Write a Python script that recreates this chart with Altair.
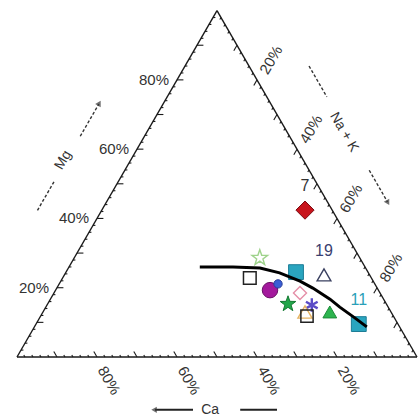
import numpy as np
import pandas as pd
import altair as alt

H = np.sqrt(3) / 2  # height of the unit triangle

# ---- sample cation compositions (% of meq) ----
sample_ids = ["7", "19", "11", "4", "5", "6", "8", "9", "10", "12", "13", "14", "15", "16"]
ca_pct = [6.8, 11.4, 9.8, 18.0, 27.1, 24.2, 24.6, 15.3, 18.8, 30.4, 25.0, 20.0, 21.5, 21.6]
mg_pct = [42.4, 23.7, 9.5, 24.5, 19.3, 21.1, 15.3, 13.0, 15.0, 22.8, 28.6, 18.5, 13.0, 11.8]
labelled_ids = ["7", "19", "11"]

# ---- evolution trend line ----
trend_ca = [41.3, 33.0, 26.4, 22.2, 18.3, 16.1, 13.4, 12.1, 9.9, 8.2]
trend_mg = [26.0, 26.0, 25.7, 24.3, 21.9, 19.9, 16.7, 14.4, 11.3, 8.7]

# ---- axis ticks and labels ----
tick_pcts = [10, 20, 30, 40, 50, 60, 70, 80, 90]
minor_pcts = [p for p in range(2, 100, 2) if p % 10]
label_pcts = [20, 40, 60, 80]

STAR = ("M0,-1L0.235,-0.324L0.951,-0.309L0.380,0.124L0.588,0.809L0,0.4"
        "L-0.588,0.809L-0.380,0.124L-0.951,-0.309L-0.235,-0.324Z")
ASTER = "M0,-1L0,1M-0.87,-0.5L0.87,0.5M-0.87,0.5L0.87,-0.5"

# marker style per sample: shape, fill, stroke, size, stroke width
styles = {
    "7":  ("diamond", "#c8141c", "#7a0a10", 330, 1.0),
    "19": ("triangle-up", "transparent", "#3a4060", 190, 1.4),
    "11": ("square", "#2aa5bf", "#1d7d96", 220, 1.0),
    "4":  ("square", "#2aa5bf", "#1d7d96", 220, 1.0),
    "5":  ("circle", "#a3199c", "#6a1066", 240, 1.0),
    "6":  ("circle", "#3b5fd6", "#2a3f9a", 70, 1.0),
    "8":  (STAR, "#22a64a", "#157a33", 270, 1.0),
    "9":  ("triangle-up", "#2db44f", "#1c8a39", 190, 1.0),
    "10": (ASTER, "transparent", "#5a4cc6", 180, 2.4),
    "12": ("square", "transparent", "#222222", 160, 1.5),
    "13": (STAR, "transparent", "#9fd38c", 270, 1.4),
    "14": ("diamond", "transparent", "#e58fa8", 170, 1.4),
    "15": ("triangle-up", "transparent", "#e6b463", 200, 1.4),
    "16": ("square", "transparent", "#222222", 150, 1.5),
}


def tern(ca, mg):
    """Ca at bottom-left, Na+K at bottom-right, Mg at the apex."""
    ca = np.asarray(ca, float)
    mg = np.asarray(mg, float)
    nak = 100.0 - ca - mg
    return nak + mg / 2.0, mg * H


# samples
sx, sy = tern(ca_pct, mg_pct)
samples = pd.DataFrame({"id": sample_ids, "x": sx, "y": sy})
samples["shape"] = [styles[i][0] for i in sample_ids]
samples["fill"] = [styles[i][1] for i in sample_ids]
samples["stroke"] = [styles[i][2] for i in sample_ids]
samples["size"] = [styles[i][3] for i in sample_ids]
samples["sw"] = [styles[i][4] for i in sample_ids]
samples["order"] = range(len(samples))
labels_df = samples[samples["id"].isin(labelled_ids)].copy()
labels_df["color"] = labels_df["id"].map({"7": "#333333", "19": "#3a4070", "11": "#2a9fb8"})

# trend line
tx, ty = tern(trend_ca, trend_mg)
trend = pd.DataFrame({"x": tx, "y": ty, "o": range(len(tx))})

# triangle frame
vx, vy = tern([100, 0, 0], [0, 0, 100])
frame = pd.DataFrame({"x": vx, "y": vy, "x2": np.roll(vx, -1), "y2": np.roll(vy, -1)})


def tick_segments(pcts, length):
    rows = []
    for p in pcts:
        # Ca axis (bottom): tick runs along the Ca isoline
        x, y = tern(p, 0)
        rows.append((x, y, x - 0.5 * length, y + H * length))
        # Mg axis (left)
        x, y = tern(100 - p, p)
        rows.append((x, y, x + length, y))
        # Na+K axis (right)
        x, y = tern(0, 100 - p)
        rows.append((x, y, x - 0.5 * length, y - H * length))
    return pd.DataFrame(rows, columns=["x", "y", "x2", "y2"])


ticks = pd.concat([tick_segments(tick_pcts, 1.6), tick_segments(minor_pcts, 0.6)])

# percentage labels
lab_rows = []
for p in label_pcts:
    x, y = tern(p, 0)
    lab_rows.append(("ca", f"{p}%", x + 3.0, y - 5.9))
    x, y = tern(100 - p, p)
    lab_rows.append(("mg", f"{p}%", x - 2.0, y))
    x, y = tern(0, 100 - p)
    lab_rows.append(("nak", f"{p}%", x + 3.5, y + 5.0))
pct_labels = pd.DataFrame(lab_rows, columns=["axis", "text", "x", "y"])


# axis names with arrows, placed outside each side
def along_left(f, off):
    return 50 * f - H * off, 100 * H * f + 0.5 * off


def along_right(f, off):
    return 50 + 50 * f + H * off, 100 * H * (1 - f) + 0.5 * off


CA_Y = -13.2
dashed = pd.DataFrame(
    [(*along_left(0.343, 13.9), *along_left(0.43, 13.9)),
     (*along_left(0.557, 13.9), *along_left(0.65, 13.9)),
     (*along_right(0.235, 13.0), *along_right(0.324, 13.0)),
     (*along_right(0.536, 13.0), *along_right(0.627, 13.0))],
    columns=["x", "y", "x2", "y2"])
solid = pd.DataFrame([(34.5, CA_Y, 44.0, CA_Y), (55.8, CA_Y, 65.0, CA_Y)],
                     columns=["x", "y", "x2", "y2"])
heads = pd.DataFrame(
    [(*along_left(0.65, 13.9), 30), (*along_right(0.627, 13.0), 150), (34.5, CA_Y, 270)],
    columns=["x", "y", "ang"])
names = pd.DataFrame(
    [("Mg", *along_left(0.484, 14.6), 300), ("Na + K", *along_right(0.422, 12.3), 60),
     ("Ca", 48.3, CA_Y, 0)],
    columns=["text", "x", "y", "ang"])

X = alt.X("x:Q", scale=alt.Scale(domain=[-4.25, 100.5], nice=False, zero=False), axis=None)
Y = alt.Y("y:Q", scale=alt.Scale(domain=[-15.5, 89.25], nice=False, zero=False), axis=None)
FONT = "Liberation Sans"
GREY = "#333333"

frame_layer = alt.Chart(frame).mark_rule(color="#1a1a1a", strokeWidth=1.4).encode(
    x=X, y=Y, x2="x2:Q", y2="y2:Q")
tick_layer = alt.Chart(ticks).mark_rule(color="#1a1a1a", strokeWidth=1.1).encode(
    x=X, y=Y, x2="x2:Q", y2="y2:Q")

lab_ca = alt.Chart(pct_labels[pct_labels.axis == "ca"]).mark_text(
    font=FONT, fontSize=15, angle=60, align="center", baseline="middle", color=GREY
).encode(x=X, y=Y, text="text:N")
lab_mg = alt.Chart(pct_labels[pct_labels.axis == "mg"]).mark_text(
    font=FONT, fontSize=15, align="right", baseline="middle", color=GREY
).encode(x=X, y=Y, text="text:N")
lab_nak = alt.Chart(pct_labels[pct_labels.axis == "nak"]).mark_text(
    font=FONT, fontSize=15, angle=300, align="center", baseline="middle", color=GREY
).encode(x=X, y=Y, text="text:N")

dash_layer = alt.Chart(dashed).mark_rule(color="#333333", strokeWidth=1.4, strokeDash=[3, 2]).encode(
    x=X, y=Y, x2="x2:Q", y2="y2:Q")
solid_layer = alt.Chart(solid).mark_rule(color="#222222", strokeWidth=2).encode(
    x=X, y=Y, x2="x2:Q", y2="y2:Q")
head_layer = alt.Chart(heads).mark_point(shape="triangle", filled=True, color="#333333", size=40).encode(
    x=X, y=Y, angle=alt.Angle("ang:Q", scale=None))
name_layer = alt.Chart(names).mark_text(
    font=FONT, fontSize=14, align="center", baseline="middle", color=GREY
).encode(x=X, y=Y, text="text:N", angle=alt.Angle("ang:Q", scale=None))

point_layer = alt.Chart(samples).mark_point(opacity=1, fillOpacity=1).encode(
    x=X, y=Y,
    shape=alt.Shape("shape:N", scale=None),
    fill=alt.Fill("fill:N", scale=None),
    stroke=alt.Stroke("stroke:N", scale=None),
    size=alt.Size("size:Q", scale=None),
    strokeWidth=alt.StrokeWidth("sw:Q", scale=None),
    order="order:Q",
)
sample_labels = alt.Chart(labels_df).mark_text(
    font=FONT, fontSize=16, dy=-24, align="center", baseline="middle"
).encode(x=X, y=Y, text="id:N", color=alt.Color("color:N", scale=None))

trend_layer = alt.Chart(trend).mark_line(color="#000000", strokeWidth=3).encode(
    x=X, y=Y, order="o:Q")

chart = alt.layer(
    frame_layer, tick_layer, lab_ca, lab_mg, lab_nak,
    dash_layer, solid_layer, head_layer, name_layer,
    point_layer, sample_labels, trend_layer,
).properties(
    width=419, height=419, padding=0,
    autosize=alt.AutoSizeParams(type="none"),
).configure_view(stroke=None)

chart.save("out.html", embed_options={"renderer": "svg", "actions": False})
